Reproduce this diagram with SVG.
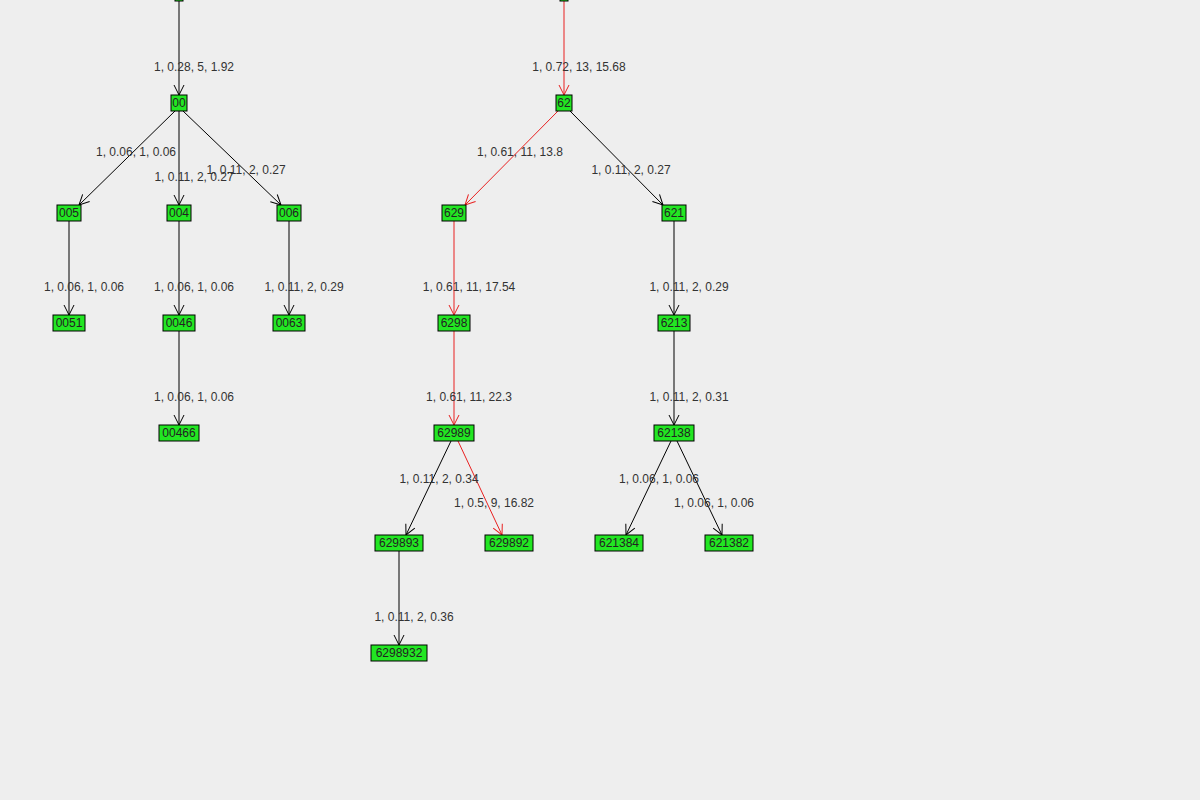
<svg xmlns="http://www.w3.org/2000/svg" width="1200" height="800" viewBox="0 0 1200 800">
<style>
.n rect{fill:#22e622;stroke:#000;stroke-width:1}
.n text{font-family:"Liberation Sans",Arial,sans-serif;font-size:12px;fill:#222;text-anchor:middle}
.e line{stroke:#000;stroke-width:1}
.e line.r{stroke:#e82020}
.l{font-family:"Liberation Sans",Arial,sans-serif;font-size:12px;fill:#333;text-anchor:middle}
</style>
<defs>
<marker id="a" viewBox="0 0 12 12" refX="11" refY="6" markerWidth="12" markerHeight="12" markerUnits="userSpaceOnUse" orient="auto"><path d="M1,1 L11,6 L1,11" fill="none" stroke="#000"/></marker>
<marker id="ar" viewBox="0 0 12 12" refX="11" refY="6" markerWidth="12" markerHeight="12" markerUnits="userSpaceOnUse" orient="auto"><path d="M1,1 L11,6 L1,11" fill="none" stroke="#e82020"/></marker>
</defs>
<rect width="1200" height="800" fill="#eeeeee"/>
<g class="e" id="connectors">
<line x1="179" y1="1" x2="179" y2="95" marker-end="url(#a)"/>
<line x1="175" y1="111" x2="79" y2="205" marker-end="url(#a)"/>
<line x1="179" y1="111" x2="179" y2="205" marker-end="url(#a)"/>
<line x1="183" y1="111" x2="281" y2="205" marker-end="url(#a)"/>
<line x1="69" y1="221" x2="69" y2="315" marker-end="url(#a)"/>
<line x1="179" y1="221" x2="179" y2="315" marker-end="url(#a)"/>
<line x1="289" y1="221" x2="289" y2="315" marker-end="url(#a)"/>
<line x1="179" y1="331" x2="179" y2="425" marker-end="url(#a)"/>
<line class="r" x1="564" y1="1" x2="564" y2="95" marker-end="url(#ar)"/>
<line class="r" x1="558" y1="111" x2="465" y2="205" marker-end="url(#ar)"/>
<line x1="570" y1="111" x2="663" y2="205" marker-end="url(#a)"/>
<line class="r" x1="454" y1="221" x2="454" y2="315" marker-end="url(#ar)"/>
<line x1="674" y1="221" x2="674" y2="315" marker-end="url(#a)"/>
<line class="r" x1="454" y1="331" x2="454" y2="425" marker-end="url(#ar)"/>
<line x1="674" y1="331" x2="674" y2="425" marker-end="url(#a)"/>
<line x1="451" y1="441" x2="406" y2="535" marker-end="url(#a)"/>
<line class="r" x1="458" y1="441" x2="502" y2="535" marker-end="url(#ar)"/>
<line x1="671" y1="441" x2="626" y2="535" marker-end="url(#a)"/>
<line x1="677" y1="441" x2="722" y2="535" marker-end="url(#a)"/>
<line x1="399" y1="551" x2="399" y2="645" marker-end="url(#a)"/>
</g>
<g id="labels">
<text class="l" x="194" y="71">1, 0.28, 5, 1.92</text>
<text class="l" x="136" y="156">1, 0.06, 1, 0.06</text>
<text class="l" x="194" y="181">1, 0.11, 2, 0.27</text>
<text class="l" x="246" y="174">1, 0.11, 2, 0.27</text>
<text class="l" x="84" y="291">1, 0.06, 1, 0.06</text>
<text class="l" x="194" y="291">1, 0.06, 1, 0.06</text>
<text class="l" x="304" y="291">1, 0.11, 2, 0.29</text>
<text class="l" x="194" y="401">1, 0.06, 1, 0.06</text>
<text class="l" x="579" y="71">1, 0.72, 13, 15.68</text>
<text class="l" x="520" y="156">1, 0.61, 11, 13.8</text>
<text class="l" x="631" y="174">1, 0.11, 2, 0.27</text>
<text class="l" x="469" y="291">1, 0.61, 11, 17.54</text>
<text class="l" x="689" y="291">1, 0.11, 2, 0.29</text>
<text class="l" x="469" y="401">1, 0.61, 11, 22.3</text>
<text class="l" x="689" y="401">1, 0.11, 2, 0.31</text>
<text class="l" x="439" y="483">1, 0.11, 2, 0.34</text>
<text class="l" x="494" y="507">1, 0.5, 9, 16.82</text>
<text class="l" x="659" y="483">1, 0.06, 1, 0.06</text>
<text class="l" x="714" y="507">1, 0.06, 1, 0.06</text>
<text class="l" x="414" y="621">1, 0.11, 2, 0.36</text>
</g>
<g class="n" id="n0"><rect x="175" y="-8" width="8" height="9"/></g>
<g class="n" id="n6"><rect x="560" y="-8" width="8" height="9"/></g>
<g class="n" id="n00"><rect x="171" y="95" width="16" height="16"/><text x="179" y="107">00</text></g>
<g class="n" id="n005"><rect x="57" y="205" width="24" height="16"/><text x="69" y="217">005</text></g>
<g class="n" id="n004"><rect x="167" y="205" width="24" height="16"/><text x="179" y="217">004</text></g>
<g class="n" id="n006"><rect x="277" y="205" width="24" height="16"/><text x="289" y="217">006</text></g>
<g class="n" id="n0051"><rect x="53" y="315" width="32" height="16"/><text x="69" y="327">0051</text></g>
<g class="n" id="n0046"><rect x="163" y="315" width="32" height="16"/><text x="179" y="327">0046</text></g>
<g class="n" id="n0063"><rect x="273" y="315" width="32" height="16"/><text x="289" y="327">0063</text></g>
<g class="n" id="n00466"><rect x="159" y="425" width="40" height="16"/><text x="179" y="437">00466</text></g>
<g class="n" id="n62"><rect x="556" y="95" width="16" height="16"/><text x="564" y="107">62</text></g>
<g class="n" id="n629"><rect x="442" y="205" width="24" height="16"/><text x="454" y="217">629</text></g>
<g class="n" id="n621"><rect x="662" y="205" width="24" height="16"/><text x="674" y="217">621</text></g>
<g class="n" id="n6298"><rect x="438" y="315" width="32" height="16"/><text x="454" y="327">6298</text></g>
<g class="n" id="n6213"><rect x="658" y="315" width="32" height="16"/><text x="674" y="327">6213</text></g>
<g class="n" id="n62989"><rect x="434" y="425" width="40" height="16"/><text x="454" y="437">62989</text></g>
<g class="n" id="n62138"><rect x="654" y="425" width="40" height="16"/><text x="674" y="437">62138</text></g>
<g class="n" id="n629893"><rect x="375" y="535" width="48" height="16"/><text x="399" y="547">629893</text></g>
<g class="n" id="n629892"><rect x="485" y="535" width="48" height="16"/><text x="509" y="547">629892</text></g>
<g class="n" id="n621384"><rect x="595" y="535" width="48" height="16"/><text x="619" y="547">621384</text></g>
<g class="n" id="n621382"><rect x="705" y="535" width="48" height="16"/><text x="729" y="547">621382</text></g>
<g class="n" id="n6298932"><rect x="371" y="645" width="56" height="16"/><text x="399" y="657">6298932</text></g>
</svg>
